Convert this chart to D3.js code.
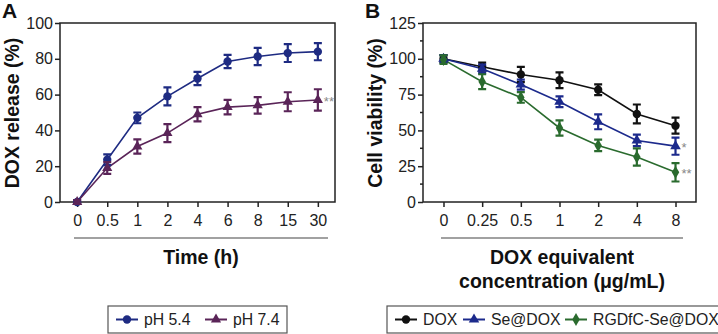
<!DOCTYPE html>
<html>
<head>
<meta charset="utf-8">
<script src="https://cdn.jsdelivr.net/npm/d3@7"></script>
<style>
  body { margin: 0; background: #fff; }
  svg { display: block; font-family: "Liberation Sans", Arial, sans-serif; }
  .axis path, .axis line { stroke: #222; stroke-width: 1.5; }
  .title { font-size: 19.5px; font-weight: bold; fill: #111; }
</style>
</head>
<body>
<div class="container"></div>
<script>
// panel A: release over time
var timeLabels = ["0", "0.5", "1", "2", "4", "6", "8", "15", "30"];
var ph54 = [0, 23.6, 47, 59, 69, 78.5, 81.3, 83.2, 84];
var ph54Err = [1, 3, 3, 5, 3.7, 3.7, 4.8, 5, 4.8];
var ph74 = [0, 19, 31, 38.5, 49, 53, 54, 56, 57];
var ph74Err = [1, 3.3, 4, 5, 4, 4, 4.6, 5.3, 6];
var releaseTicks = [0, 20, 40, 60, 80, 100];

// panel B: cell viability
var concLabels = ["0", "0.25", "0.5", "1", "2", "4", "8"];
var dox = [100, 94.5, 89, 85, 78.4, 61.5, 53.3];
var doxErr = [2.5, 2.8, 5.3, 5.5, 3.8, 6.6, 5.6];
var seDox = [100, 93, 82, 70, 56, 43, 39];
var seDoxErr = [2.5, 3, 3.5, 3.8, 5.2, 4, 6];
var rgdDox = [99.4, 84, 73, 51.7, 39.5, 31.4, 20.7];
var rgdDoxErr = [3, 5.2, 3.7, 5.3, 4, 6, 6.4];
var viabilityTicks = [0, 25, 50, 75, 100, 125];

var svg = d3
  .select(".container")
  .append("svg")
  .attr("width", 718)
  .attr("height", 334);

function drawPanel(opt) {
  var x = d3.scalePoint().domain(opt.labels).range([opt.left, opt.right]).padding(opt.pad);
  var y = d3.scaleLinear().domain([0, opt.ymax]).range([202, 23]);

  var g = svg.append("g");

  // frame
  g.append("rect")
    .attr("x", opt.left)
    .attr("y", 23)
    .attr("width", opt.right - opt.left)
    .attr("height", 179)
    .attr("fill", "none")
    .attr("stroke", "#222")
    .attr("stroke-width", 1.5);

  if (opt.minor) {
    g.selectAll("line.minor")
      .data(opt.minor)
      .enter()
      .append("line")
      .attr("class", "minor")
      .attr("x1", opt.left - 3)
      .attr("x2", opt.left)
      .attr("y1", function (d) { return y(d); })
      .attr("y2", function (d) { return y(d); })
      .attr("stroke", "#222")
      .attr("stroke-width", 1.5);
  }

  var yAxis = g.append("g")
    .attr("class", "axis")
    .attr("transform", "translate(" + opt.left + ",0)")
    .call(d3.axisLeft(y).tickValues(opt.yticks).tickSize(5).tickPadding(2).tickSizeOuter(0));

  var xAxis = g.append("g")
    .attr("class", "axis")
    .attr("transform", "translate(0,202)")
    .call(d3.axisBottom(x).tickSize(5).tickPadding(8).tickSizeOuter(0));

  [yAxis, xAxis].forEach(function (a) {
    a.attr("font-family", "Liberation Sans, Arial, sans-serif").attr("font-size", 16);
    a.selectAll("text").attr("fill", "#222");
    a.select(".domain").remove();
  });

  // rule under tick labels
  g.append("line")
    .attr("x1", opt.ruleFrom)
    .attr("x2", opt.ruleTo)
    .attr("y1", 238)
    .attr("y2", 238)
    .attr("stroke", "#444")
    .attr("stroke-width", 1.2);

  opt.xtitle.forEach(function (t, i) {
    g.append("text")
      .attr("class", "title")
      .attr("x", opt.xtitleX)
      .attr("y", 264 + i * 24)
      .attr("text-anchor", "middle")
      .text(t);
  });

  g.append("text")
    .attr("class", "title")
    .attr("transform", "translate(" + (opt.left - 41) + ",113) rotate(-90)")
    .attr("text-anchor", "middle")
    .text(opt.ytitle);

  g.append("text")
    .attr("x", opt.left - 58)
    .attr("y", 18)
    .style("font-size", "21px")
    .style("font-weight", "bold")
    .attr("fill", "#111")
    .text(opt.letter);

  var line = d3.line()
    .x(function (d, i) { return x(opt.labels[i]); })
    .y(function (d) { return y(d); });

  opt.series.forEach(function (s) {
    g.append("path")
      .datum(s.values)
      .attr("d", line)
      .attr("fill", "none")
      .attr("stroke", s.color)
      .attr("stroke-width", 1.6);
  });

  opt.series.forEach(function (s) {
    var eg = g.append("g");
    s.values.forEach(function (v, i) {
      var cx = x(opt.labels[i]);
      var e = s.err[i];
      eg.append("path")
        .attr("d", "M" + cx + "," + y(v - e) + "V" + y(v + e) +
          "M" + (cx - 4) + "," + y(v + e) + "H" + (cx + 4) +
          "M" + (cx - 4) + "," + y(v - e) + "H" + (cx + 4))
        .attr("fill", "none")
        .attr("stroke", s.color)
        .attr("stroke-width", 2.2);
      eg.append("path")
        .attr("transform", "translate(" + cx + "," + y(v) + ")")
        .attr("d", d3.symbol().type(s.symbol).size(s.size)())
        .attr("fill", s.color);
    });
    if (s.star) {
      var last = s.values.length - 1;
      g.append("text")
        .attr("x", x(opt.labels[last]) + 6)
        .attr("y", y(s.values[last]) + 6)
        .style("font-size", "13px")
        .attr("fill", "#888")
        .text(s.star);
    }
  });

  // legend
  var lg = g.append("g");
  lg.append("rect")
    .attr("x", opt.legend.x)
    .attr("y", 306)
    .attr("width", opt.legend.w)
    .attr("height", 27)
    .attr("fill", "#fff")
    .attr("stroke", "#555")
    .attr("stroke-width", 1.2);
  opt.series.forEach(function (s, i) {
    var lx = opt.legend.items[i];
    lg.append("line")
      .attr("x1", lx)
      .attr("x2", lx + 22)
      .attr("y1", 319.5)
      .attr("y2", 319.5)
      .attr("stroke", s.color)
      .attr("stroke-width", 2);
    lg.append("path")
      .attr("transform", "translate(" + (lx + 11) + ",319.5)")
      .attr("d", d3.symbol().type(s.symbol).size(s.size)())
      .attr("fill", s.color);
    lg.append("text")
      .attr("x", lx + 28)
      .attr("y", 325)
      .style("font-size", "15.8px")
      .attr("fill", "#222")
      .text(s.name);
  });
}

drawPanel({
  letter: "A",
  labels: timeLabels,
  left: 60, right: 335, pad: 0.57,
  ymax: 100, yticks: releaseTicks,
  ruleFrom: 74, ruleTo: 328,
  xtitle: ["Time (h)"], xtitleX: 201,
  ytitle: "DOX release (%)",
  legend: { x: 108, w: 179, items: [116, 205] },
  series: [
    { name: "pH 5.4", values: ph54, err: ph54Err, color: "#1e2b82", symbol: d3.symbolCircle, size: 55 },
    { name: "pH 7.4", values: ph74, err: ph74Err, color: "#5a2458", symbol: d3.symbolTriangle, size: 45, star: "**" }
  ]
});

drawPanel({
  letter: "B",
  labels: concLabels,
  left: 423, right: 696, pad: 0.53,
  ymax: 125, yticks: viabilityTicks,
  minor: [12.5, 37.5, 62.5, 87.5, 112.5],
  ruleFrom: 441, ruleTo: 683,
  xtitle: ["DOX equivalent", "concentration (\u03bcg/mL)"], xtitleX: 562,
  ytitle: "Cell viability (%)",
  legend: { x: 387, w: 340, items: [395, 463, 565] },
  series: [
    { name: "DOX", values: dox, err: doxErr, color: "#111111", symbol: d3.symbolCircle, size: 55 },
    { name: "Se@DOX", values: seDox, err: seDoxErr, color: "#1c2a8c", symbol: d3.symbolTriangle, size: 48, star: "*" },
    { name: "RGDfC-Se@DOX", values: rgdDox, err: rgdDoxErr, color: "#2a6b2e", symbol: d3.symbolDiamond, size: 48, star: "**" }
  ]
});
</script>
</body>
</html>
